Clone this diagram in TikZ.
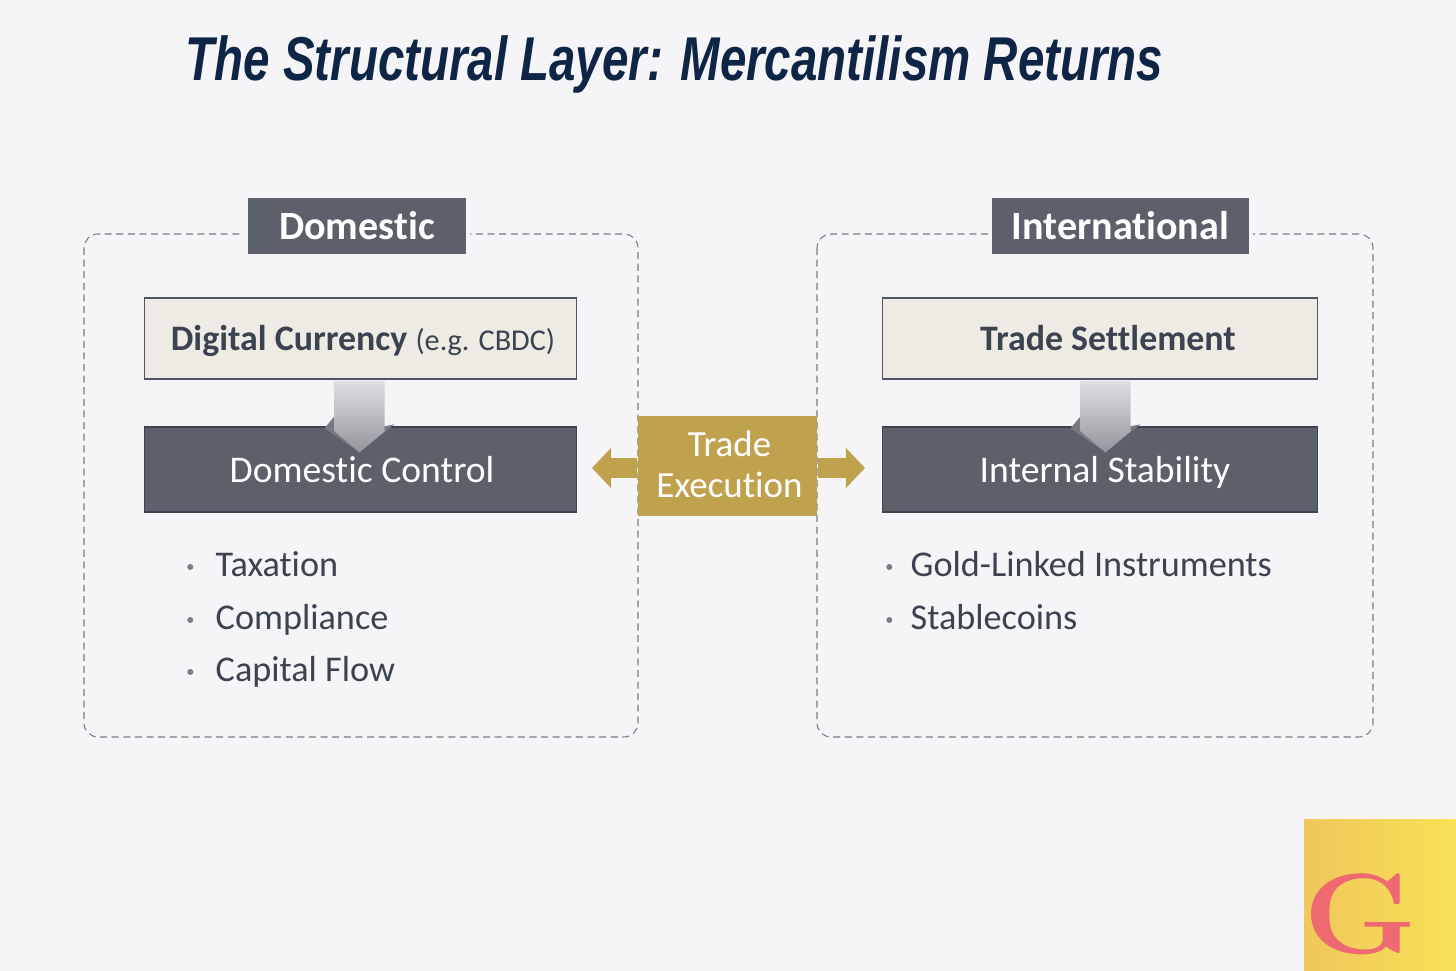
\documentclass[tikz,border=0pt]{standalone}
\usepackage{fontspec}
\setsansfont{Carlito}[Ligatures=NoCommon]
\newfontfamily\titlefont{Liberation Sans}
\usepackage{tikz}
\usetikzlibrary{arrows.meta,positioning,calc}
\definecolor{paper}{HTML}{F5F5F8}
\definecolor{slate}{HTML}{5C606B}
\definecolor{cream}{HTML}{EEEBE4}
\definecolor{ink}{HTML}{3B4350}
\definecolor{navy}{HTML}{0E2545}
\definecolor{gold}{HTML}{BFA14E}
\definecolor{dashgray}{HTML}{7A7D83}
\definecolor{logoL}{HTML}{F0C75B}
\definecolor{logoR}{HTML}{F8E156}
\definecolor{logoG}{HTML}{EE6A70}
\definecolor{flowtop}{HTML}{E0E0E3}
\definecolor{flowbot}{HTML}{94959C}
\definecolor{flowwing}{HTML}{777981}
\newcommand{\flowarrow}[3]{%
  \fill[flowwing] ($(#2.north)+(#3-25,-10)$) -- ($(#2.north)+(#3-35,2)$) -- ($(#2.north)+(#3,26)$)
    -- ($(#2.north)+(#3+35,-2)$) -- ($(#2.north)+(#3+25,0)$) -- cycle;
  \shade[top color=flowtop,bottom color=flowbot]
    ($(#1.south)+(#3-25,1)$) -- ($(#1.south)+(#3+25,1)$) -- ($(#2.north)+(#3+25,5)$)
    -- ($(#2.north)+(#3,26)$) -- ($(#2.north)+(#3-25,5)$) -- cycle;}
\tikzset{
  panel/.style={draw=dashgray, line width=0.3pt, dash pattern=on 2pt off 1.3pt, rounded corners=0.14cm},
  heading/.style={fill=slate, draw=paper, line width=0.04cm, text=white, inner sep=0pt,
    font=\sffamily\fontsize{11.4}{13}\selectfont\bfseries, minimum height=0.60cm},
  source/.style={fill=cream, draw=ink!90, line width=0.35pt, text=ink, inner sep=0pt,
    text height=0.30cm, text depth=0.06cm,
    minimum height=0.81cm, font=\sffamily\fontsize{10.2}{13}\selectfont},
  sink/.style={fill=slate, draw=ink, line width=0.35pt, text=white, inner sep=0pt,
    text height=0.30cm, text depth=0.04cm,
    minimum height=0.85cm, font=\sffamily\fontsize{10.7}{13}\selectfont},
  listing/.style={anchor=west, text=ink, inner sep=0pt, text height=0.26cm, text depth=0.06cm,
    font=\sffamily\fontsize{10.3}{13}\selectfont},
  tick/.style={circle, fill=dashgray, inner sep=0pt, minimum size=0.06cm},
  tradebox/.style={fill=gold, text=white, inner sep=0pt, minimum width=1.79cm, minimum height=1cm,
    align=center, font=\sffamily\fontsize{10.5}{11.6}\selectfont},
  tradearrow/.style={gold, line width=0.2cm, -{Triangle[length=0.19cm,width=0.39cm]}},
}
\begin{document}
\begin{tikzpicture}[x=0.01cm,y=-0.01cm]
 \useasboundingbox (0,0) rectangle (1456,971);
 \fill[paper] (0,0) rectangle (1456,971);
 \node[anchor=west, text=navy, xscale=0.767, inner sep=0pt,
   font=\titlefont\fontsize{17.6}{20}\selectfont\bfseries\itshape] (title) at (185,65)
   {The Structural Layer: Mercantilism Returns};
 % domestic panel
 \draw[panel] (84,234) rectangle (638,737);
 \node[heading, minimum width=2.22cm] (dom) at (357,226) {Domestic};
 \node[source, minimum width=4.31cm] (digital) at (360.5,338.5)
   {\hspace*{0.05cm}\textbf{Digital Currency} {\fontsize{8.6}{13}\selectfont (e.g. CBDC)}};
 \node[sink, minimum width=4.31cm] (control) at (360.5,469.5) {\hspace*{0.03cm}Domestic Control};
 \flowarrow{digital}{control}{-1}
 \foreach \y/\txt [count=\i] in {567/Taxation,620/Compliance,672/Capital Flow} {
   \node[listing] (domitem\i) at (215,\y) {\txt};
   \node[tick, left=0.21cm of domitem\i] (domtick\i) {};
 }
 % international panel
 \draw[panel] (817,234) rectangle (1373,737);
 \node[heading, minimum width=2.61cm] (intl) at (1120.5,226) {International};
 \node[source, minimum width=4.34cm, font=\sffamily\fontsize{10.2}{13}\selectfont\bfseries] (settle) at (1100,338.5)
   {\hspace*{0.16cm}Trade Settlement};
 \node[sink, minimum width=4.34cm] (stability) at (1100,469.5) {\hspace*{0.10cm}Internal Stability};
 \flowarrow{settle}{stability}{5.5}
 \foreach \y/\txt [count=\i] in {567/Gold-Linked Instruments,620/Stablecoins} {
   \node[listing] (intlitem\i) at (910,\y) {\txt};
   \node[tick, left=0.17cm of intlitem\i] (intltick\i) {};
 }
 % trade execution
 \coordinate (tipL) at (592,468);
 \coordinate (tipR) at (865,468);
 \node[tradebox] (trade) at (727.5,466) {\hspace*{0.04cm}Trade\\\hspace*{0.04cm}Execution\rule[-0.04cm]{0pt}{0pt}};
 \draw[tradearrow] (tipL -| trade.west) -- (tipL);
 \draw[tradearrow] (tipR -| trade.east) -- (tipR);
 % logo
 \shade[left color=logoL, right color=logoR] (1304,820) rectangle (1456,971);
 \node[text=logoG, inner sep=0pt, xscale=1.13, font=\rmfamily\fontsize{32.5}{34}\selectfont\bfseries] (logo) at (1361,914) {G};
\end{tikzpicture}
\end{document}
